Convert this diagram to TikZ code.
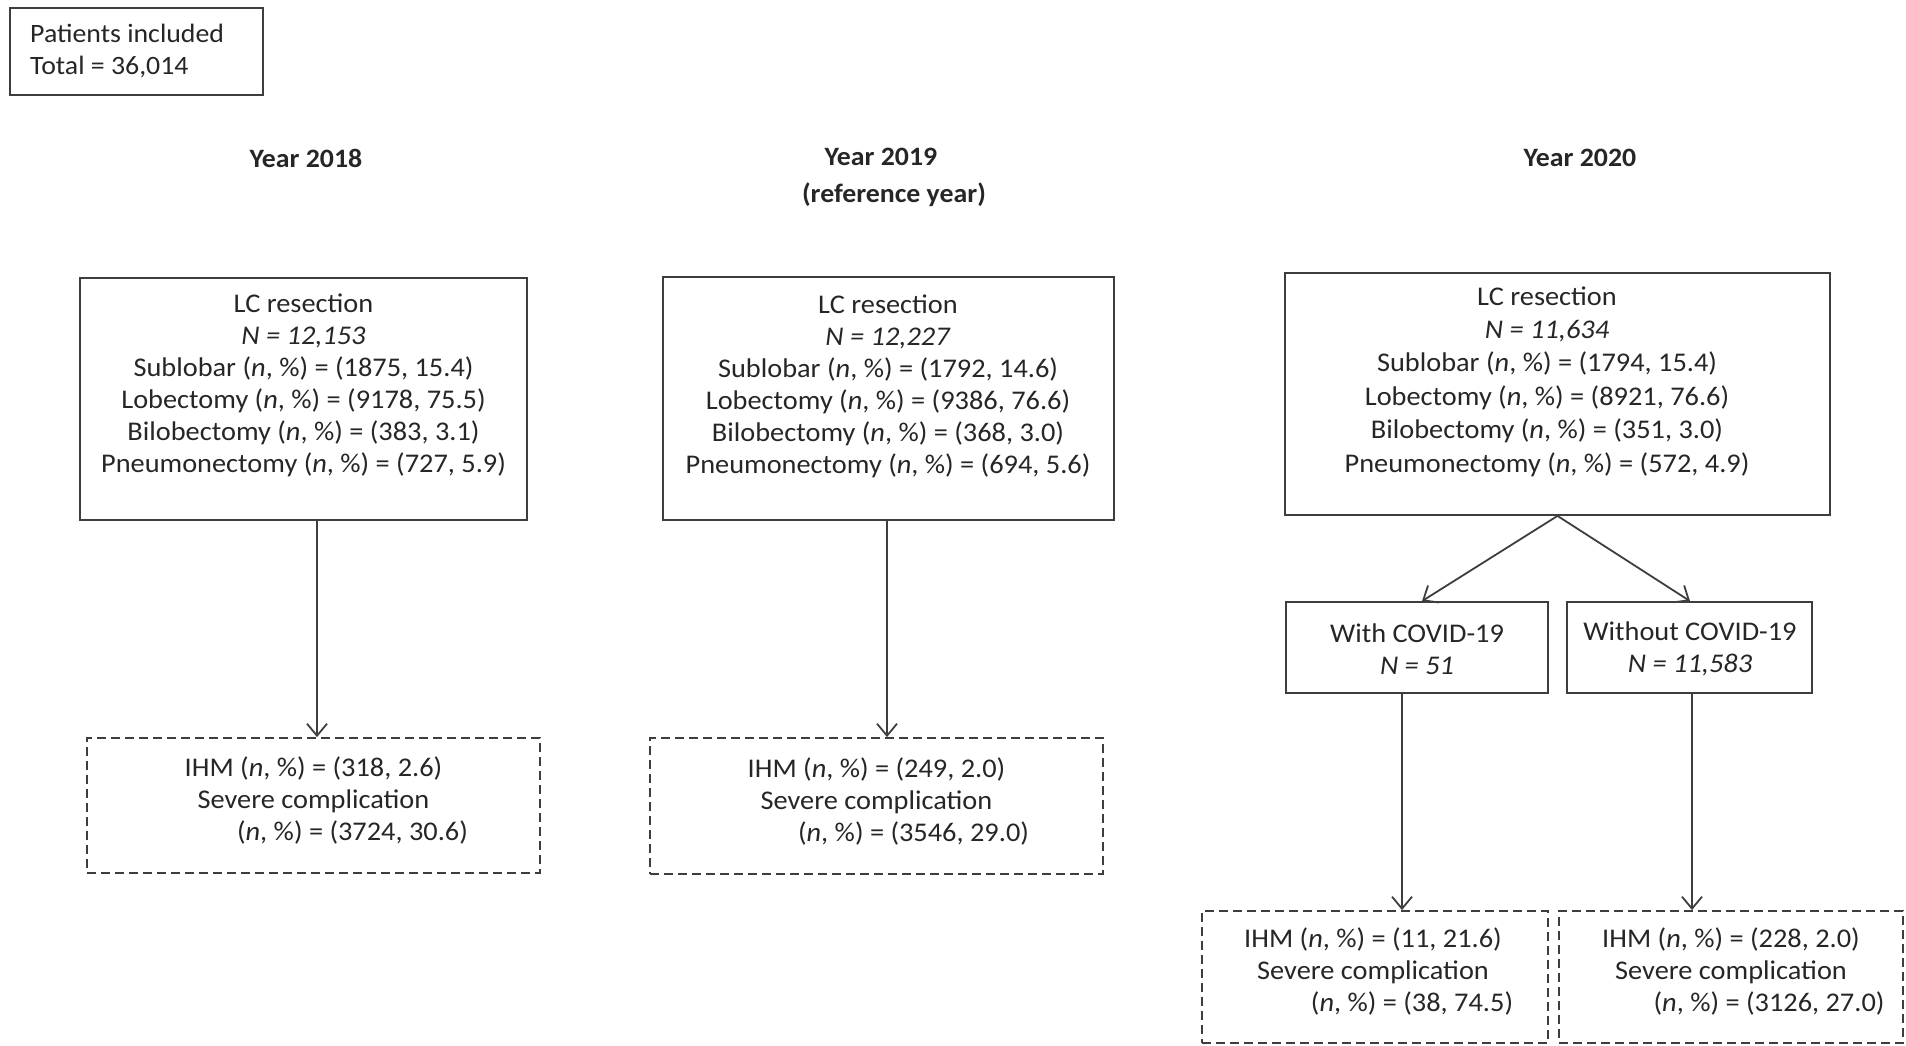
\documentclass[tikz,border=0pt]{standalone}
\usepackage{fontspec}
\setmainfont{Carlito}[FakeStretch=1.05]
\usetikzlibrary{arrows.meta}
\definecolor{linegray}{RGB}{62,62,62}
\definecolor{textc}{RGB}{38,38,38}
\tikzset{
  solidbox/.style={draw=linegray, line width=1.8pt, inner sep=0pt},
  dashbox/.style={draw=linegray, line width=1.8pt, dash pattern=on 9pt off 5pt, inner sep=0pt},
  txt/.style={align=center, text=textc, inner sep=0pt, font=\fontsize{27}{32}\selectfont},
  ltxt/.style={align=left, text=textc, inner sep=0pt, font=\fontsize{26.5}{32}\selectfont},
  head/.style={align=center, text=textc, inner sep=0pt, font=\fontsize{26.5}{38}\selectfont\bfseries},
  arr/.style={draw=linegray, line width=1.8pt, -{Straight Barb[length=12pt,width=20pt,line width=1.8pt]}}
}
\newcommand{\nperc}{(\textit{n}, \%)}
\begin{document}
\begin{tikzpicture}[x=1pt,y=-1pt]
\useasboundingbox (0,0) rectangle (1906,1045);

% top box
\node[solidbox, minimum width=253pt, minimum height=87pt] (top) at (136.5,51.5) {};
\node[ltxt, anchor=west] (toptxt) at (30,51) {Patients included\\Total = 36,014};

% year headings
\node[head] (y18) at (306,158) {Year 2018};
\node[head] (y19) at (881,157) {Year 2019};
\node[head] (y19b) at (894,195) {(reference year)};
\node[head] (y20) at (1580,158) {Year 2020};

% 2018
\node[solidbox, minimum width=447pt, minimum height=242pt] (b18) at (303.5,399) {};
\node[txt] (t18) at (303.5,385) {LC resection\\\textit{N = 12,153}\\Sublobar \nperc{} = (1875, 15.4)\\Lobectomy \nperc{} = (9178, 75.5)\\Bilobectomy \nperc{} = (383, 3.1)\\Pneumonectomy \nperc{} = (727, 5.9)};
\node[dashbox, minimum width=453pt, minimum height=135pt] (d18) at (313.5,805.5) {};
\node[txt] (dt18) at (313.5,800) {IHM \nperc{} = (318, 2.6)\\Severe complication\\\hspace*{78pt}\nperc{} = (3724, 30.6)};

% 2019
\node[solidbox, minimum width=451pt, minimum height=243pt] (b19) at (888.5,398.5) {};
\node[txt] (t19) at (888,386) {LC resection\\\textit{N = 12,227}\\Sublobar \nperc{} = (1792, 14.6)\\Lobectomy \nperc{} = (9386, 76.6)\\Bilobectomy \nperc{} = (368, 3.0)\\Pneumonectomy \nperc{} = (694, 5.6)};
\node[dashbox, minimum width=453pt, minimum height=136pt] (d19) at (876.5,806) {};
\node[txt] (dt19) at (876.5,801) {IHM \nperc{} = (249, 2.0)\\Severe complication\\\hspace*{74pt}\nperc{} = (3546, 29.0)};

% 2020
\node[solidbox, minimum width=545pt, minimum height=242pt] (b20) at (1557.5,394) {};
\node[txt, font=\fontsize{27}{33.4}\selectfont] (t20) at (1547,381.5) {LC resection\\\textit{N = 11,634}\\Sublobar \nperc{} = (1794, 15.4)\\Lobectomy \nperc{} = (8921, 76.6)\\Bilobectomy \nperc{} = (351, 3.0)\\Pneumonectomy \nperc{} = (572, 4.9)};

\node[solidbox, minimum width=262pt, minimum height=91pt] (wc) at (1417,647.5) {};
\node[txt] (twc) at (1417,649) {With COVID-19\\\textit{N = 51}};
\node[solidbox, minimum width=245pt, minimum height=91pt] (wo) at (1689.5,647.5) {};
\node[txt] (two) at (1690,649) {Without COVID-19\\\textit{N = 11,583}};

\node[dashbox, minimum width=346pt, minimum height=132pt] (dwc) at (1375,977) {};
\node[txt] (tdwc) at (1373,971.5) {IHM \nperc{} = (11, 21.6)\\Severe complication\\\hspace*{78pt}\nperc{} = (38, 74.5)};
\node[dashbox, minimum width=344pt, minimum height=132pt] (dwo) at (1731,977) {};
\node[txt] (tdwo) at (1731,971.5) {IHM \nperc{} = (228, 2.0)\\Severe complication\\\hspace*{76pt}\nperc{} = (3126, 27.0)};

% arrow x positions
\coordinate (x18) at (317,0);
\coordinate (x19) at (887,0);
\coordinate (xwc) at (1422,0);
\coordinate (xwo) at (1690,0);
\coordinate (xwcd) at (1402,0);
\coordinate (xwod) at (1692,0);

\draw[arr] (b18.south -| x18) -- (d18.north -| x18);
\draw[arr] (b19.south -| x19) -- (d19.north -| x19);
\draw[arr] (b20.south) -- (wc.north -| xwc);
\draw[arr] (b20.south) -- (wo.north -| xwo);
\draw[arr] (wc.south -| xwcd) -- (dwc.north -| xwcd);
\draw[arr] (wo.south -| xwod) -- (dwo.north -| xwod);
\end{tikzpicture}
\end{document}
